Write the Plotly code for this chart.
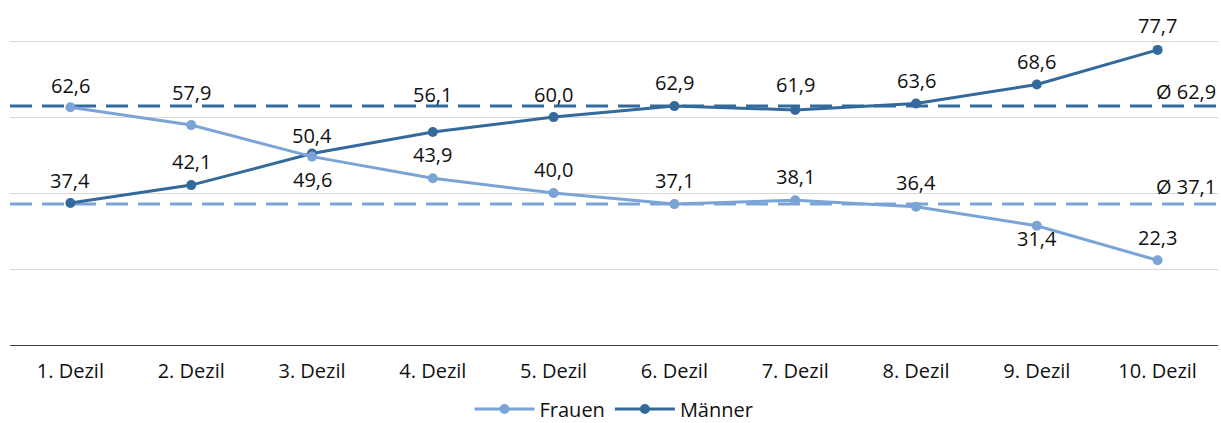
import plotly.graph_objects as go

categories = ["1. Dezil", "2. Dezil", "3. Dezil", "4. Dezil", "5. Dezil",
              "6. Dezil", "7. Dezil", "8. Dezil", "9. Dezil", "10. Dezil"]
frauen = [62.6, 57.9, 49.6, 43.9, 40.0, 37.1, 38.1, 36.4, 31.4, 22.3]
maenner = [37.4, 42.1, 50.4, 56.1, 60.0, 62.9, 61.9, 63.6, 68.6, 77.7]
avg_frauen = 37.1
avg_maenner = 62.9

# label vertical offsets in pixels (positive = above the point)
frauen_label_shift = [22, 33, -23, 24, 24, 24, 24, 24, -13, 23]
maenner_label_shift = [22, 24, 18, 37, 23, 24, 25, 23, 23, 24]
avg_label_shift = {"maenner": 14.5, "frauen": 17.5}

c_light = "#7BA4D6"
c_dark = "#336A9B"
font = "'Open Sans', sans-serif"

x = list(range(len(categories)))
fig = go.Figure()

# average lines
fig.add_trace(go.Scatter(x=[-0.5, 9.5], y=[avg_maenner] * 2, mode="lines",
                         line=dict(color=c_dark, width=3, dash="22px,10px"),
                         showlegend=False, hoverinfo="skip"))
fig.add_trace(go.Scatter(x=[-0.5, 9.5], y=[avg_frauen] * 2, mode="lines",
                         line=dict(color=c_light, width=3, dash="22px,10px"),
                         showlegend=False, hoverinfo="skip"))

fig.add_trace(go.Scatter(x=x, y=maenner, name="Männer", mode="lines+markers",
                         line=dict(color=c_dark, width=3), marker=dict(size=10, color=c_dark),
                         legendrank=2))
fig.add_trace(go.Scatter(x=x, y=frauen, name="Frauen", mode="lines+markers",
                         line=dict(color=c_light, width=3), marker=dict(size=10, color=c_light),
                         legendrank=1))


def fmt(v):
    return f"{v:.1f}".replace(".", ",")


for series, shifts in [(maenner, maenner_label_shift), (frauen, frauen_label_shift)]:
    for xi, v, s in zip(x, series, shifts):
        fig.add_annotation(x=xi, y=v, xref="x", yref="y", text=fmt(v), showarrow=False,
                           xanchor="center", yanchor="middle", yshift=s,
                           font=dict(size=20, color="#111"))

for v, s in [(avg_maenner, avg_label_shift["maenner"]), (avg_frauen, avg_label_shift["frauen"])]:
    fig.add_annotation(x=1, xref="paper", y=v, yref="y", text="Ø " + fmt(v),
                       showarrow=False, xanchor="right", yanchor="middle", yshift=s,
                       font=dict(size=20, color="#111"))

fig.update_layout(
    width=1221, height=423,
    margin=dict(l=10, r=3, t=10, b=78, autoexpand=False),
    paper_bgcolor="white", plot_bgcolor="white",
    font=dict(family=font, size=20, color="#111"),
    showlegend=True,
    legend=dict(orientation="h", x=0.5, xanchor="center", yref="container", y=0.033,
                yanchor="middle", font=dict(size=20), traceorder="normal", itemwidth=60),
    xaxis=dict(range=[-0.5, 9.5], tickvals=x, ticktext=categories, showgrid=False,
               zeroline=False, showline=False, ticks="", tickfont=dict(size=20),
               ticklabelstandoff=12),
    yaxis=dict(range=[0, 88.2], tickvals=[20, 40, 60, 80], showticklabels=False,
               showgrid=True, gridcolor="#d9d9d9", gridwidth=1, zeroline=True,
               zerolinecolor="#404040", zerolinewidth=1, showline=False),
)
fig.write_html("out.html", config={"displayModeBar": False},
               post_script="document.body.style.margin='0';")
